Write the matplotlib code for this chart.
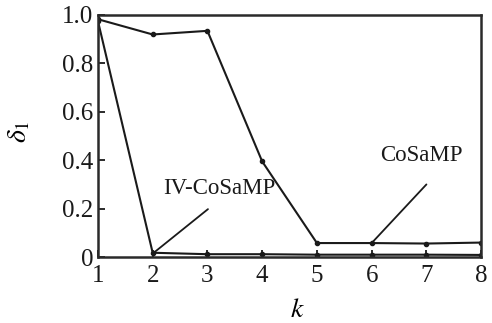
import numpy as np
import matplotlib.pyplot as plt

plt.rcParams['font.family'] = ['Liberation Serif', 'DejaVu Serif']
plt.rcParams['mathtext.fontset'] = 'stix'

k = [1, 2, 3, 4, 5, 6, 7, 8]
cosamp = [0.982, 0.919, 0.934, 0.395, 0.058, 0.058, 0.056, 0.060]
iv_cosamp = [0.975, 0.018, 0.012, 0.012, 0.010, 0.010, 0.010, 0.009]

fig = plt.figure(figsize=(4.92, 3.23), dpi=100)
ax = fig.add_axes([0.199, 0.204, 0.779, 0.750])

ink = '#1a1a1a'
ax.plot(k, cosamp, color=ink, lw=1.5, marker='o', ms=3)
ax.plot(k, iv_cosamp, color=ink, lw=1.5, marker='o', ms=3)

# labels with leader lines
ax.annotate('', xy=(2.02, 0.018), xytext=(3.01, 0.198),
            arrowprops=dict(arrowstyle='-', color=ink, lw=1.3, shrinkA=0, shrinkB=0))
ax.text(3.21, 0.285, 'IV-CoSaMP', ha='center', va='center', fontsize=16.5, color=ink)
ax.annotate('', xy=(6.0, 0.058), xytext=(7.0, 0.30),
            arrowprops=dict(arrowstyle='-', color=ink, lw=1.3, shrinkA=0, shrinkB=0))
ax.text(6.91, 0.42, 'CoSaMP', ha='center', va='center', fontsize=16.5, color=ink)

ax.set_xlim(1, 8)
ax.set_ylim(0, 1.0)
ax.set_xticks(k)
ax.set_yticks([0, 0.2, 0.4, 0.6, 0.8, 1.0])
ax.set_yticklabels(['0', '0.2', '0.4', '0.6', '0.8', '1.0'])
ax.tick_params(direction='in', length=5, width=1.3, labelsize=18, colors=ink)
ax.tick_params(axis='x', pad=6)
for s in ax.spines.values():
    s.set_linewidth(1.8)
    s.set_color('#2a2a2a')

ax.set_xlabel('$k$', fontsize=20)
ax.xaxis.set_label_coords(0.52, -0.17)
ax.set_ylabel(r'$\delta_{\mathrm{1}}$', fontsize=20)
ax.yaxis.set_label_coords(-0.17, 0.517)

fig.savefig('out.png', dpi=100)
